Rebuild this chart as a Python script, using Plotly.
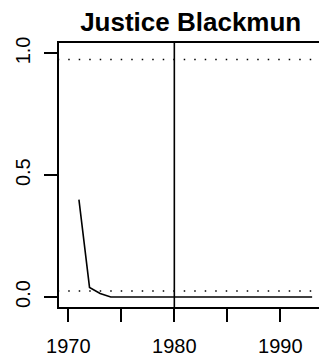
import plotly.graph_objects as go

years = list(range(1971, 1994))
values = [0.40, 0.039, 0.014, 0.0] + [0.0] * 19
vline_year = 1980
hlines = [0.025, 0.975]
title = "Justice Blackmun"
xticks = [1970, 1975, 1980, 1985, 1990]
xtick_labels = ["1970", "", "1980", "", "1990"]
yticks = [0.0, 0.5, 1.0]
ytick_labels = ["0.0", "0.5", "1.0"]

fig = go.Figure()
for h in hlines:
    fig.add_trace(go.Scatter(x=[1969.0, 1996.0], y=[h, h], mode="lines",
                             line=dict(color="black", width=1.5, dash="1.5px,9px"),
                             hoverinfo="skip", showlegend=False))
fig.add_trace(go.Scatter(x=years, y=values, mode="lines",
                         line=dict(color="black", width=1.6), showlegend=False))
fig.add_shape(type="line", x0=vline_year, x1=vline_year, y0=0, y1=1,
              xref="x", yref="paper", line=dict(color="black", width=1.6))

font = "Liberation Sans, Arial, Helvetica, sans-serif"
fig.update_layout(
    width=319, height=356,
    margin=dict(l=59, r=0, t=43, b=49),
    paper_bgcolor="white", plot_bgcolor="white",
    title=dict(text="<b>" + title + "</b>", x=190.7 / 319, xref="container", xanchor="center",
               y=1 - 22 / 356, yref="container", yanchor="middle",
               font=dict(family=font, size=26, color="black")),
    font=dict(family=font, size=20, color="black"),
    xaxis=dict(range=[1969.12, 1969.12 + 260 / 10.6], tickvals=xticks, ticktext=xtick_labels,
               ticks="outside", ticklen=13, tickwidth=1.6, tickcolor="black",
               showline=True, linewidth=1.6, linecolor="black", mirror=True,
               showgrid=False, zeroline=False, automargin=False, ticklabelstandoff=7,
               tickfont=dict(family=font, size=20, color="black")),
    yaxis=dict(range=[-0.0412, 1.0428], tickvals=yticks, ticktext=ytick_labels,
               ticks="outside", ticklen=13, tickwidth=1.6, tickcolor="black",
               showline=True, linewidth=1.6, linecolor="black", mirror=False,
               showgrid=False, zeroline=False, tickangle=-90, automargin=False,
               ticklabelstandoff=6,
               tickfont=dict(family=font, size=20, color="black")),
)
fig.write_html("out.html", config={"displayModeBar": False},
               post_script="document.body.style.margin='0px';document.body.style.overflow='hidden';")
